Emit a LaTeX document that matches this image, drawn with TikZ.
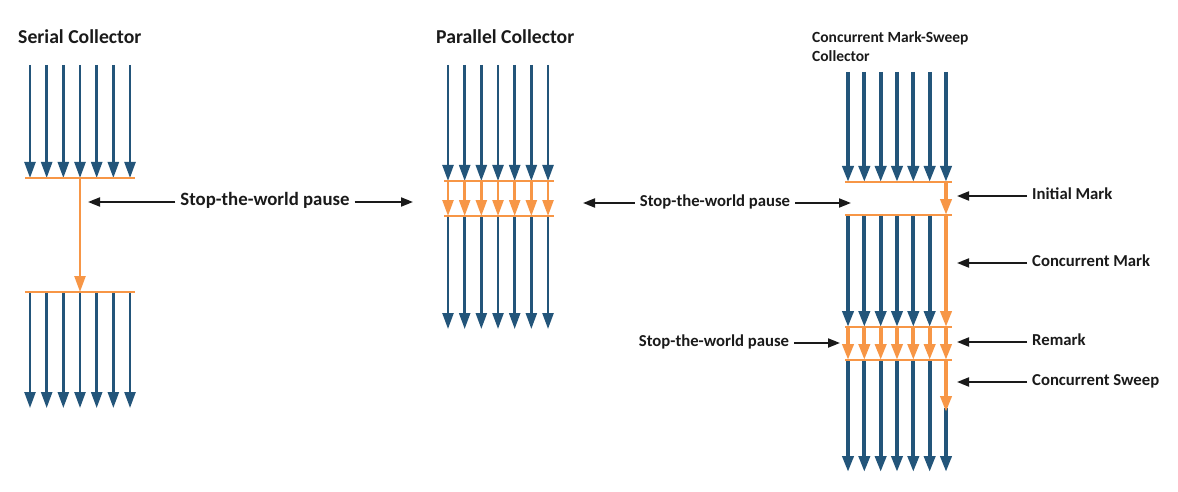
\documentclass[tikz,border=0pt]{standalone}
\usepackage{fontspec}
\setmainfont{Carlito}
\usetikzlibrary{arrows.meta}
\definecolor{gcblue}{RGB}{35,85,122}
\definecolor{gcorange}{RGB}{247,150,70}
\definecolor{gcblack}{RGB}{26,26,26}
\tikzset{
  thr/.style={draw=gcblue, line width=2.4pt, -{Triangle[length=16pt,width=11pt]}},
  thrT/.style={thr, line width=3.8pt},
  gcarrow/.style={draw=gcorange, line width=2.4pt, -{Triangle[length=16pt,width=11pt]}},
  gcarrowT/.style={gcarrow, line width=3.8pt},
  gcbar/.style={draw=gcorange, line width=2.4pt},
  callout/.style={draw=gcblack, line width=2pt, -{Triangle[length=12pt,width=9pt]}, shorten <=5pt},
  lbl/.style={inner sep=0pt, text height=0.66em, text depth=0pt, text=gcblack, font=\bfseries\fontsize{16.7}{19}\selectfont},
  lblbig/.style={lbl, font=\bfseries\fontsize{18.8}{22}\selectfont},
  ttl/.style={lbl, anchor=west, font=\bfseries\fontsize{19.7}{23}\selectfont},
  ttlsmall/.style={lbl, anchor=west, font=\bfseries\fontsize{15.5}{19}\selectfont},
  side/.style={lbl, anchor=west}
}
\begin{document}
\begin{tikzpicture}[x=1pt,y=-1pt]
\useasboundingbox (0,0) rectangle (1178,492);

% ---------- Serial collector ----------
\node[ttl] (serT) at (18,40) {Serial Collector};
\foreach \i [evaluate=\i as \x using 30+16.67*\i] in {0,...,6} {
  \draw[thr] (\x,65) -- (\x,178);
  \draw[thr] (\x,292) -- (\x,408);
}
\draw[gcarrow] (80,178) -- (80,292);
\draw[gcbar] (25,178) -- (135,178);
\draw[gcbar] (25,292) -- (135,292);

\node[lblbig] (swpS) at (265,202) {Stop-the-world pause};
\coordinate (swpSl) at (88,202);
\coordinate (swpSr) at (413,202);
\draw[callout] (swpS) -- (swpSl);
\draw[callout] (swpS) -- (swpSr);

% ---------- Parallel collector ----------
\node[ttl] (parT) at (436,40) {Parallel Collector};
\foreach \i [evaluate=\i as \x using 448+16.67*\i] in {0,...,6} {
  \draw[thr] (\x,65) -- (\x,181);
  \draw[gcarrow] (\x,181) -- (\x,216);
  \draw[thr] (\x,216) -- (\x,329);
}
\draw[gcbar] (444,181) -- (554,181);
\draw[gcbar] (444,216) -- (554,216);

\node[lbl] (swpP) at (715,203) {Stop-the-world pause};
\coordinate (swpPl) at (583,203);
\coordinate (swpPr) at (851,203);
\draw[callout] (swpP) -- (swpPl);
\draw[callout] (swpP) -- (swpPr);

% ---------- Concurrent Mark-Sweep collector ----------
\node[ttlsmall] (cmsT) at (812,39.5) {Concurrent Mark-Sweep};
\node[ttlsmall] (cmsTb) at (812,58.5) {Collector};
\foreach \i [evaluate=\i as \x using 848+16.33*\i] in {0,...,6} {
  \draw[thrT] (\x,72) -- (\x,182);
  \draw[gcarrowT] (\x,327) -- (\x,360);
}
\foreach \i [evaluate=\i as \x using 848+16.33*\i] in {0,...,5} {
  \draw[thrT] (\x,215) -- (\x,327);
  \draw[thrT] (\x,360) -- (\x,472);
}
\draw[gcarrowT] (946,182) -- (946,215);
\draw[gcarrowT] (946,215) -- (946,327);
\draw[thrT] (946,408) -- (946,472);
\draw[gcarrowT] (946,360) -- (946,412);
\draw[gcbar] (845,182) -- (952,182);
\draw[gcbar] (845,215) -- (952,215);
\draw[gcbar] (845,327) -- (952,327);
\draw[gcbar] (845,360) -- (952,360);

\node[lbl] (swpC) at (714,343) {Stop-the-world pause};
\coordinate (swpCr) at (840,343);
\draw[callout] (swpC) -- (swpCr);

\node[side] (initM) at (1032,196) {Initial Mark};
\node[side] (concM) at (1032,263) {Concurrent Mark};
\node[side] (remk) at (1032,342) {Remark};
\node[side] (concS) at (1032,382) {Concurrent Sweep};
\coordinate (initMp) at (957,196);
\coordinate (concMp) at (957,263);
\coordinate (remkp) at (957,342);
\coordinate (concSp) at (957,382);
\draw[callout] (initM) -- (initMp);
\draw[callout] (concM) -- (concMp);
\draw[callout] (remk) -- (remkp);
\draw[callout] (concS) -- (concSp);
\end{tikzpicture}
\end{document}
